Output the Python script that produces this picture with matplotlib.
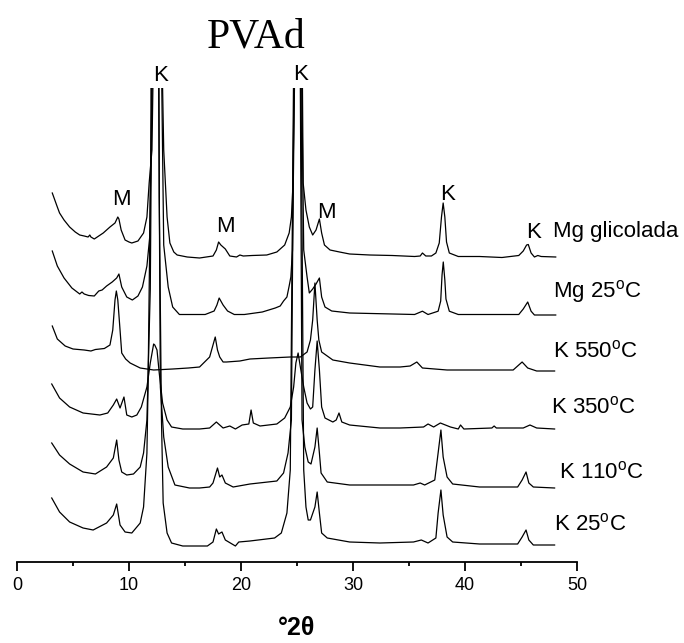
import numpy as np
import matplotlib
matplotlib.use("Agg")
import matplotlib.pyplot as plt

plt.rcParams['font.family'] = ['Liberation Sans', 'DejaVu Sans']
plt.rcParams['mathtext.fontset'] = 'custom'
plt.rcParams['mathtext.rm'] = 'Liberation Sans'

# XRD patterns, (2theta, counts above own baseline), arbitrary units
mg_glicolada = [
    (3.15, 64), (3.6, 50), (3.8, 44), (4.2, 37), (4.7, 30), (5.2, 25), (5.6, 22), (6.0, 21),
    (6.35, 20), (6.5, 22), (6.6, 20), (6.9, 18), (7.3, 21), (7.7, 24), (8.3, 30), (8.75, 34),
    (9.0, 40), (9.1, 38), (9.3, 27), (9.65, 17), (10.0, 15), (10.25, 14), (10.8, 16), (11.3, 24),
    (11.6, 40), (11.8, 74), (12.05, 107), (12.2, 220), (12.55, 2000), (12.85, 260), (13.1, 107),
    (13.4, 40), (13.65, 14), (14.0, 5), (14.3, 2), (15.2, 0), (16.3, -1), (17.5, 1), (17.8, 7),
    (18.0, 15), (18.2, 12), (18.4, 10), (18.6, 8), (19.0, 1), (19.6, 0), (19.9, 2), (20.2, 1),
    (21.0, 1.5), (22.3, 2), (23.2, 5), (23.9, 12), (24.3, 24), (24.5, 40), (24.65, 74),
    (24.85, 300), (25.15, 2000), (25.4, 300), (25.55, 74), (25.8, 47), (26.1, 30), (26.4, 22),
    (26.7, 27), (27.0, 38), (27.2, 24), (27.45, 12), (27.95, 7), (28.8, 5), (29.7, 3),
    (31.5, 2), (33.5, 1.5), (35.5, 0.5), (36.0, 1), (36.2, 4), (36.5, 1), (37.0, 1), (37.4, 4),
    (37.7, 14), (37.9, 40), (38.05, 54), (38.2, 40), (38.35, 15), (38.6, 4), (39.4, 0.5),
    (41.3, 0.5), (43.3, -0.5), (44.8, 1.5), (45.2, 6), (45.5, 12), (45.65, 12.5), (45.9, 4),
    (46.2, 0), (46.5, 1.5), (46.8, 0.5), (48.1, 0),
]
mg_25 = [
    (3.15, 64), (3.6, 49), (4.2, 37), (4.9, 27), (5.6, 21), (5.8, 23), (6.0, 21), (6.4, 19.5),
    (6.9, 19), (7.3, 24), (7.6, 25), (8.0, 29), (8.5, 33), (8.9, 37), (9.1, 41), (9.35, 28),
    (9.8, 18), (10.3, 15), (10.8, 19), (11.2, 28), (11.6, 49), (11.85, 78), (12.15, 300),
    (12.5, 2000), (12.85, 300), (13.1, 70), (13.5, 28), (13.9, 8), (14.5, 0.5), (16.8, 0.5),
    (17.6, 4), (17.85, 10), (18.05, 17), (18.4, 10), (18.8, 4), (19.4, 0.5), (20.3, 0.5),
    (21.9, 3), (23.06, 7), (23.5, 9), (23.8, 14), (24.1, 18), (24.3, 29), (24.45, 38),
    (24.6, 65), (24.85, 300), (25.1, 2000), (25.35, 300), (25.6, 65), (25.9, 38), (26.1, 22),
    (26.4, 26), (26.7, 31), (27.0, 37), (27.2, 18), (27.5, 8), (28.1, 4), (29.7, 2),
    (35.5, 0.5), (36.2, 3.8), (36.7, 0.5), (37.6, 3.8), (37.83, 14), (37.95, 40), (38.06, 53),
    (38.2, 35), (38.3, 16), (38.6, 3.8), (39.4, 0.5), (44.8, 0.5), (45.2, 6), (45.6, 13),
    (45.9, 3.8), (46.2, 0), (48.1, 0),
]
k_550 = [
    (3.15, 44), (3.6, 31), (4.3, 24), (5.0, 21), (6.0, 20), (6.6, 19), (7.0, 20.5), (7.8, 21.5),
    (8.3, 25), (8.55, 40), (8.75, 70), (8.87, 79), (9.0, 70), (9.2, 40), (9.35, 17), (9.7, 11),
    (10.1, 7), (11.0, 2), (12.2, 0), (13.9, 1), (15.3, 2), (16.3, 3), (17.2, 13), (17.5, 25),
    (17.7, 33), (17.9, 20), (18.1, 13), (18.4, 8), (18.7, 8), (19.9, 9), (20.8, 11),
    (22.5, 12), (24.4, 13), (25.3, 13), (25.9, 18), (26.2, 30), (26.4, 50), (26.6, 87),
    (26.8, 50), (26.95, 30), (27.2, 18), (28.2, 10), (29.7, 7), (32.4, 3), (34.2, 3),
    (35.1, 4), (35.4, 6), (35.7, 8), (36.2, 2), (38.4, 0), (44.3, 0), (44.6, 3), (45.1, 8),
    (45.6, 2), (46.4, -1), (48.0, -1),
]
k_350 = [
    (3.1, 46), (3.8, 32), (4.7, 23), (5.9, 17), (7.4, 15), (8.1, 17), (8.6, 25), (8.9, 31),
    (9.2, 22), (9.55, 33), (9.8, 15), (10.25, 13), (10.7, 15), (11.1, 23), (11.6, 43),
    (11.9, 67), (12.2, 86), (12.3, 85), (12.5, 80), (12.7, 57), (13.0, 27), (13.4, 10),
    (13.8, 3), (14.8, 1), (16.3, 1), (17.2, 2), (17.8, 8), (18.4, 2), (19.0, 4), (19.5, 1),
    (20.1, 5), (20.7, 6), (20.9, 20), (21.1, 7), (21.7, 4), (23.2, 6), (23.9, 12), (24.4, 23),
    (24.7, 43), (24.9, 67), (25.1, 77), (25.3, 63), (25.6, 43), (25.9, 27), (26.2, 21),
    (26.4, 23), (26.6, 60), (26.8, 89), (27.0, 60), (27.2, 23), (27.5, 12), (28.2, 8),
    (28.5, 10), (28.75, 17), (29.0, 8), (29.7, 5), (32.4, 2), (34.2, 2), (36.3, 3), (36.7, 6),
    (37.2, 3), (37.8, 7), (38.7, 3), (39.4, 1), (39.6, 5), (39.9, 1), (42.4, 2), (42.6, 4),
    (42.8, 2), (45.2, 2), (45.8, 5), (46.4, 2), (48.0, 1),
]
k_110 = [
    (3.1, 46), (3.8, 34), (4.7, 25), (5.9, 17), (7.0, 15), (8.0, 22), (8.6, 31), (8.9, 49),
    (9.1, 29), (9.35, 17), (9.8, 14), (10.4, 15), (11.0, 22), (11.3, 36), (11.6, 69),
    (11.9, 200), (12.1, 500), (12.4, 2000), (12.65, 400), (12.8, 102), (13.1, 52), (13.5, 22),
    (14.1, 4), (15.4, 1), (16.3, 1), (17.2, 2), (17.5, 6), (17.9, 21), (18.1, 12), (18.3, 14),
    (18.6, 6), (19.3, 2), (20.8, 5), (23.2, 8), (23.8, 16), (24.2, 36), (24.5, 69),
    (24.75, 450), (25.05, 2000), (25.3, 400), (25.45, 69), (25.7, 42), (26.0, 27), (26.25, 25),
    (26.6, 42), (26.8, 61), (27.0, 36), (27.15, 16), (27.7, 7), (29.7, 4), (32.4, 4),
    (35.4, 4), (36.0, 6), (36.4, 4), (37.3, 9), (37.6, 36), (37.85, 59), (38.05, 32),
    (38.4, 12), (38.9, 5), (41.3, 2), (44.7, 2), (45.1, 9), (45.45, 17), (45.7, 6), (46.1, 2),
    (48.0, 1),
]
k_25 = [
    (3.1, 49), (3.8, 35), (4.7, 25), (5.9, 19), (6.8, 17), (8.0, 24), (8.6, 32), (8.9, 43),
    (9.2, 22), (9.65, 15), (10.25, 14), (11.0, 24), (11.3, 40), (11.6, 94), (11.7, 160),
    (11.95, 400), (12.35, 2000), (12.7, 350), (12.9, 127), (13.05, 44), (13.4, 14), (13.8, 4),
    (14.8, 1), (17.0, 1), (17.5, 5), (17.8, 18), (18.0, 13), (18.3, 15), (18.6, 7), (19.2, 3),
    (19.5, 1), (19.8, 5), (20.8, 6), (23.0, 9), (23.6, 14), (24.1, 34), (24.4, 77),
    (24.7, 480), (25.05, 2000), (25.35, 480), (25.6, 77), (25.8, 40), (26.0, 27), (26.2, 27),
    (26.6, 40), (26.8, 55), (27.0, 34), (27.2, 14), (27.7, 9), (29.7, 5), (32.4, 4),
    (35.4, 5), (36.1, 7), (36.7, 4), (37.4, 9), (37.6, 34), (37.85, 57), (38.05, 32),
    (38.4, 10), (38.9, 5), (41.3, 3), (44.7, 3), (45.1, 10), (45.45, 17), (45.7, 7), (46.1, 2),
    (48.0, 2),
]

patterns = [mg_glicolada, mg_25, k_550, k_350, k_110, k_25]
labels = ['Mg glicolada', r'Mg 25$^{\rm o}$C', r'K 550$^{\rm o}$C',
          r'K 350$^{\rm o}$C', r'K 110$^{\rm o}$C', r'K 25$^{\rm o}$C']
offsets = [305, 247, 192, 132, 73, 15]
label_pos = [(47.86, 325), (47.86, 265), (47.86, 205), (47.7, 149), (48.4, 84), (47.95, 32)]

# peak assignments: M = montmorillonite, K = kaolinite
peak_marks = [('K', 12.85, 481), ('K', 25.36, 482), ('M', 9.3, 357), ('M', 18.6, 330),
              ('M', 27.6, 344), ('K', 38.4, 362), ('K', 46.1, 324)]

fig = plt.figure(figsize=(6.84, 6.43), dpi=100)
ax = fig.add_axes([17 / 684, 81 / 643, 560 / 684, 474 / 643])

for pat, off in zip(patterns, offsets):
    d = np.array(pat, dtype=float)
    ax.plot(d[:, 0], d[:, 1] + off, color='black', lw=0.9)

for txt, (x, y) in zip(labels, label_pos):
    ax.text(x, y, txt, fontsize=16, ha='left', va='baseline')

for txt, x, y in peak_marks:
    ax.text(x, y, txt, fontsize=16, ha='center', va='baseline')

ax.set_xlim(0, 50)
ax.set_ylim(0, 474)
for s in ['left', 'right', 'top']:
    ax.spines[s].set_visible(False)
ax.spines['bottom'].set_linewidth(1.3)
ax.set_yticks([])
ax.set_xticks(np.arange(0, 51, 10))
ax.set_xticks(np.arange(5, 50, 10), minor=True)
ax.tick_params(axis='x', which='major', length=6.5, width=1.3, labelsize=13, pad=4)
ax.tick_params(axis='x', which='minor', length=3, width=1.3)

fig.text(256 / 684, 1 - 47 / 643, 'PVAd', family='Liberation Serif', fontsize=30,
         ha='center', va='baseline')
fig.text(297 / 684, 1 - 628 / 643, '°2θ', fontsize=18, fontweight='bold',
         ha='center', va='center')

fig.savefig('out.png', dpi=100)
